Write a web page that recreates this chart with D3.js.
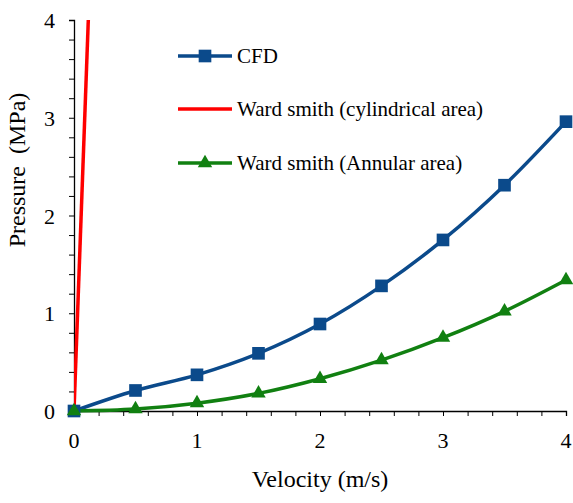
<!DOCTYPE html>
<html><head><meta charset="utf-8">
<script src="https://cdn.jsdelivr.net/npm/d3@7"></script>
<style>body{margin:0;background:#fff}svg{display:block}</style>
</head><body>
<script>
const velocity = [0, 0.5, 1, 1.5, 2, 2.5, 3, 3.5, 4];
const cfd = [0, 0.21, 0.37, 0.59, 0.89, 1.28, 1.75, 2.31, 2.96];
const annular = [0, 0.02, 0.08, 0.18, 0.33, 0.52, 0.75, 1.02, 1.34];
const cylVelocity = [0, 0.5];
const cylindrical = [0, 17.2];
const xTicks = [0, 1, 2, 3, 4];
const yTicks = [0, 1, 2, 3, 4];
const seriesNames = ["CFD", "Ward smith (cylindrical area)", "Ward smith (Annular area)"];

const FONT = "'Liberation Serif', 'Times New Roman', Tinos, 'DejaVu Serif', serif";
const W = 573, H = 503;
const m = {l: 74, r: 7, t: 20, b: 92};
const svg = d3.select("body").append("svg").attr("width", W).attr("height", H)
  .attr("font-family", FONT);
const x = d3.scaleLinear().domain([0, 4]).range([m.l, W - m.r]);
const y = d3.scaleLinear().domain([0, 4]).range([H - m.b, m.t]);

svg.append("defs").append("clipPath").attr("id", "clip")
  .append("rect").attr("x", m.l).attr("y", m.t).attr("width", W - m.r - m.l).attr("height", H - m.b - m.t);

const minor = d3.range(0, 4.001, 0.2);
const xa = svg.append("g").attr("transform", `translate(0,${H - m.b})`)
  .call(d3.axisBottom(x).tickValues(minor).tickSize(5).tickFormat(""));
const ya = svg.append("g").attr("transform", `translate(${m.l},0)`)
  .call(d3.axisLeft(y).tickValues(minor).tickSize(5).tickFormat(""));
[xa, ya].forEach(g => { g.selectAll("line").attr("stroke", "#000").attr("stroke-width", 1); g.select(".domain").attr("stroke", "#000").attr("stroke-width", 1.3); });

svg.append("g").selectAll("text").data(xTicks).join("text")
  .attr("x", d => x(d)).attr("y", H - m.b + 37).attr("text-anchor", "middle")
  .attr("font-family", FONT).attr("font-size", 22).text(d => d);
svg.append("g").selectAll("text").data(yTicks).join("text")
  .attr("x", m.l - 19).attr("y", d => y(d) + 8).attr("text-anchor", "end")
  .attr("font-family", FONT).attr("font-size", 22).text(d => d);

svg.append("text").attr("x", 320).attr("y", 487).attr("text-anchor", "middle")
  .attr("font-family", FONT).attr("font-size", 24).text("Velocity (m/s)");
svg.append("text").attr("transform", "translate(25,170) rotate(-90)").attr("text-anchor", "middle")
  .attr("font-family", FONT).attr("font-size", 24).style("white-space", "pre").text("Pressure  (MPa)");

const blue = "#0B4A8B", red = "#FF0000", green = "#118011";
const line = d3.line().x(d => x(d[0])).y(d => y(d[1])).curve(d3.curveCatmullRom.alpha(0));
const plot = svg.append("g").attr("clip-path", "url(#clip)");

plot.append("path").datum(cylVelocity.map((v, i) => [v, cylindrical[i]]))
  .attr("d", d3.line().x(d => x(d[0])).y(d => y(d[1]))).attr("fill", "none").attr("stroke", red).attr("stroke-width", 3.5);

const cfdPts = velocity.map((v, i) => [v, cfd[i]]);
const annPts = velocity.map((v, i) => [v, annular[i]]);
svg.append("path").datum(cfdPts).attr("d", line).attr("fill", "none").attr("stroke", blue).attr("stroke-width", 3.5);
svg.append("path").datum(annPts).attr("d", line).attr("fill", "none").attr("stroke", green).attr("stroke-width", 3.5);

const sq = d3.symbol().type(d3.symbolSquare).size(160);
const tri = d3.symbol().type(d3.symbolTriangle).size(90);
svg.append("g").selectAll("path").data(cfdPts).join("path")
  .attr("d", sq).attr("transform", d => `translate(${x(d[0])},${y(d[1])})`).attr("fill", blue);
svg.append("g").selectAll("path").data(annPts).join("path")
  .attr("d", tri).attr("transform", d => `translate(${x(d[0])},${y(d[1])})`).attr("fill", green);

const legY = [56, 109, 163];
const colors = [blue, red, green];
const lg = svg.append("g");
seriesNames.forEach((n, i) => {
  lg.append("line").attr("x1", 178).attr("x2", 232).attr("y1", legY[i]).attr("y2", legY[i])
    .attr("stroke", colors[i]).attr("stroke-width", 3.5);
  if (i === 0) lg.append("path").attr("d", sq).attr("transform", `translate(205,${legY[i]})`).attr("fill", blue);
  if (i === 2) lg.append("path").attr("d", tri).attr("transform", `translate(205,${legY[i]})`).attr("fill", green);
  lg.append("text").attr("x", 237).attr("y", legY[i] + 7).attr("font-family", FONT).attr("font-size", 21).text(n);
});
</script>
</body></html>
